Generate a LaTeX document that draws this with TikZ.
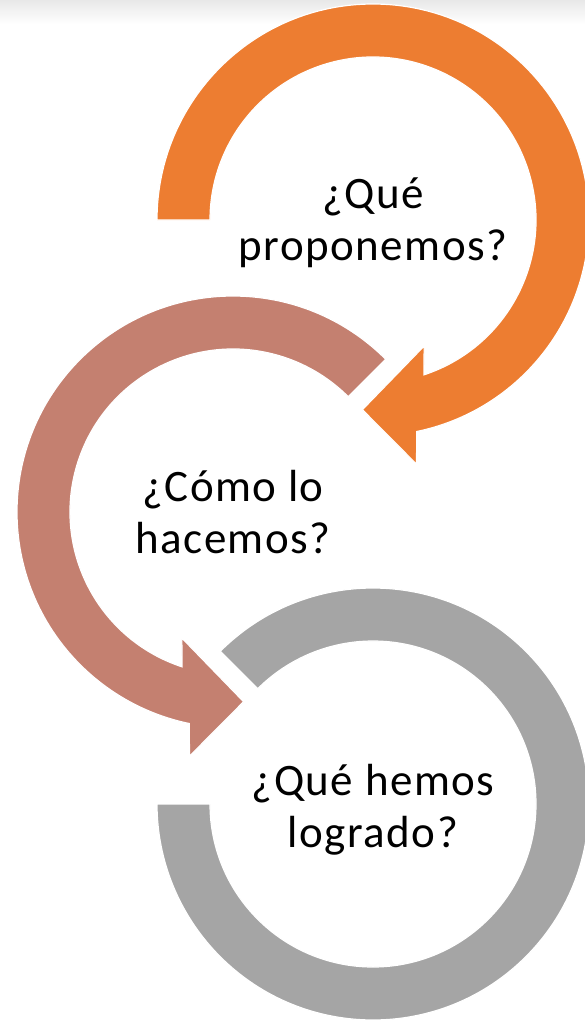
\documentclass[tikz,border=0pt]{standalone}
\usepackage{fontspec}
\setmainfont{Carlito}[LetterSpace=3.3]
\usetikzlibrary{calc}
\definecolor{arcorange}{HTML}{ED7D31}
\definecolor{arcbrown}{HTML}{C48070}
\definecolor{arcgray}{HTML}{A5A5A5}
\begin{document}
\begin{tikzpicture}[x=1pt,y=1pt,
  ring/.style={draw=white,line width=1.2pt},
  question/.style={align=center,inner sep=0pt,font=\fontsize{45}{52}\selectfont}]
\useasboundingbox (0,0) rectangle (585,-1020);
\shade[top color=black!9,bottom color=white] (0,0) rectangle (585,-24);
% ring centres
\coordinate (A) at (373,-220);
\coordinate (B) at (233,-512);
\coordinate (C) at (373,-804);
% gray ring, no head
\filldraw[ring,fill=arcgray] ($(C)+(135:216)$) arc[start angle=135,end angle=-180,radius=216]
  -- ($(C)+(180:163)$) arc[start angle=-180,end angle=135,radius=163] -- cycle;
% brown ring with head
\filldraw[ring,fill=arcbrown] ($(B)+(45:216)$) arc[start angle=45,end angle=258.3,radius=216]
  -- ($(B)+(259.9:248)$) -- ($(B)+(273.2:190)$) -- ($(B)+(247.9:136)$) -- ($(B)+(251.8:163)$)
  arc[start angle=251.8,end angle=45,radius=163] -- cycle;
% orange ring with head
\filldraw[ring,fill=arcorange] ($(A)+(180:216)$) arc[start angle=180,end angle=-78.3,radius=216]
  -- ($(A)+(-79.9:248)$) -- ($(A)+(-93.2:190)$) -- ($(A)+(-67.9:136)$) -- ($(A)+(-71.8:163)$)
  arc[start angle=-71.8,end angle=180,radius=163] -- cycle;
\node[question] (qpro) at (373,-223) {¿Qué\\proponemos?};
\node[question] (qcomo) at (233,-512) {¿Cómo lo\\hacemos?};
\node[question] (qlogro) at (373,-810) {¿Qué hemos\\logrado?};
\end{tikzpicture}
\end{document}
